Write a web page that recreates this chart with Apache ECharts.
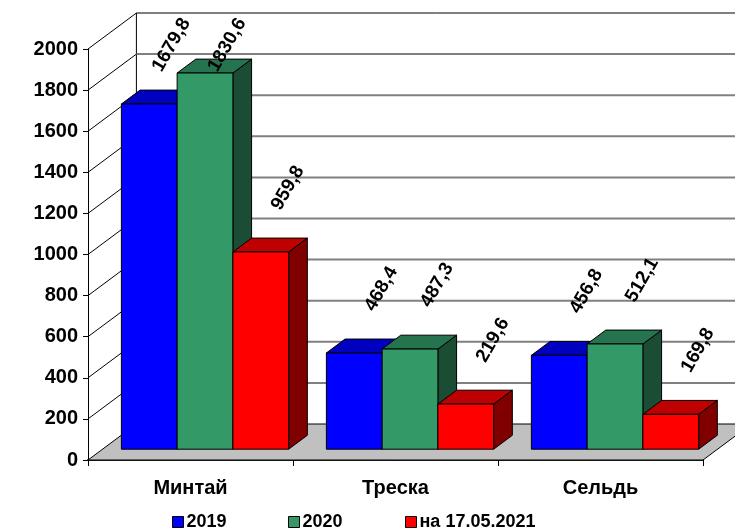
<!DOCTYPE html>
<html>
<head>
<meta charset="utf-8">
<script src="https://cdn.jsdelivr.net/npm/echarts@6/dist/echarts.min.js"></script>
<style>
html,body{margin:0;padding:0;background:#fff;}
#chart{width:735px;height:528px;}
</style>
</head>
<body>
<div id="chart"></div>
<script>
// ---- data ----
const categories = ['Минтай', 'Треска', 'Сельдь'];
const seriesNames = ['2019', '2020', 'на 17.05.2021'];
const values2019 = [1679.8, 468.4, 456.8];
const values2020 = [1830.6, 487.3, 512.1];
const values2021 = [959.8, 219.6, 169.8];
const yTicks = [0, 200, 400, 600, 800, 1000, 1200, 1400, 1600, 1800, 2000];

// ---- styles ----
const FONT = '"Liberation Sans", Arial, sans-serif';
const DEPTH = { x: 48.4, y: -36 };     // full floor depth vector
const F1 = 0.3, F2 = 0.686;            // bar front/back depth fractions
const faceColors = [
  { front: '#0000FF', top: '#0000BF', side: '#000080' },
  { front: '#339966', top: '#267350', side: '#1A4D33' },
  { front: '#FF0000', top: '#BF0000', side: '#800000' }
];
const legendLefts = [172, 288, 405];
const allValues = [values2019, values2020, values2021];

function fmt(v) { return v.toFixed(1).replace('.', ','); }

function barGeom(api, s) {
  const idx = api.value(0), v = api.value(1);
  const base = api.coord([idx, 0]);
  const top = api.coord([idx, v]);
  const W = api.size([1, 0])[0];
  const bw = W * 0.272;
  const x0 = base[0] - W * 0.408 + s * bw + DEPTH.x * F1;
  const yb = base[1] + DEPTH.y * F1;
  const yt = top[1] + DEPTH.y * F1;
  return { x0, yb, yt, bw, ddx: DEPTH.x * (F2 - F1), ddy: DEPTH.y * (F2 - F1) };
}

function makeBarRender(s) {
  return function (params, api) {
    const g = barGeom(api, s);
    const c = faceColors[s];
    const st = (fill) => ({ fill: fill, stroke: '#000', lineWidth: 1 });
    return {
      type: 'group',
      children: [
        { type: 'polygon', shape: { points: [[g.x0 + g.bw, g.yt], [g.x0 + g.bw + g.ddx, g.yt + g.ddy], [g.x0 + g.bw + g.ddx, g.yb + g.ddy], [g.x0 + g.bw, g.yb]] }, style: st(c.side) },
        { type: 'polygon', shape: { points: [[g.x0, g.yt], [g.x0 + g.bw, g.yt], [g.x0 + g.bw + g.ddx, g.yt + g.ddy], [g.x0 + g.ddx, g.yt + g.ddy]] }, style: st(c.top) },
        { type: 'rect', shape: { x: g.x0, y: g.yt, width: g.bw, height: g.yb - g.yt }, style: st(c.front) }
      ]
    };
  };
}

function renderLabel(params, api) {
  const s = api.value(2);
  const g = barGeom(api, s);
  const cs = params.coordSys;
  let cx = g.x0 + 55, cy = g.yt - 64;
  if (cy < cs.y - 4) { cy = cs.y - 4; cx = g.x0 + 50; }
  return {
    type: 'text',
    x: cx, y: cy,
    rotation: Math.PI / 3,
    style: {
      text: fmt(api.value(1)),
      font: 'bold 19px ' + FONT,
      fill: '#000',
      align: 'center',
      verticalAlign: 'middle'
    }
  };
}

function renderWall(params, api) {
  const cs = params.coordSys;
  const v = api.value(1);
  const y = api.coord([0, v])[1];
  const x = cs.x;
  const children = [];
  const maxV = yTicks[yTicks.length - 1];
  if (v === 0) {
    children.push({
      type: 'polygon',
      shape: { points: [[x, y], [x + cs.width, y], [x + cs.width + DEPTH.x, y + DEPTH.y], [x + DEPTH.x, y + DEPTH.y]] },
      style: { fill: '#C0C0C0', stroke: '#000', lineWidth: 1 }
    });
    const yTop = api.coord([0, maxV])[1];
    children.push({
      type: 'line',
      shape: { x1: x + DEPTH.x, y1: y + DEPTH.y, x2: x + DEPTH.x, y2: yTop + DEPTH.y },
      style: { stroke: '#000', lineWidth: 1 }
    });
  } else {
    children.push({
      type: 'line',
      shape: { x1: x + DEPTH.x, y1: y + DEPTH.y, x2: x + cs.width + DEPTH.x, y2: y + DEPTH.y },
      style: { stroke: v === maxV ? '#000' : '#808080', lineWidth: v === maxV ? 1 : 2 }
    });
    children.push({
      type: 'line',
      shape: { x1: x, y1: y, x2: x + DEPTH.x, y2: y + DEPTH.y },
      style: { stroke: '#000', lineWidth: 1 }
    });
  }
  return { type: 'group', children: children };
}

const labelData = [];
allValues.forEach((arr, s) => arr.forEach((v, i) => labelData.push([i, v, s])));

const legends = seriesNames.map((name, i) => ({
  data: [name],
  left: legendLefts[i],
  top: 513,
  padding: 0,
  itemWidth: 11,
  itemHeight: 11,
  itemGap: 0,
  icon: 'rect',
  itemStyle: { borderColor: '#000', borderWidth: 1 },
  textStyle: { fontFamily: FONT, fontWeight: 'bold', fontSize: 18, color: '#000', padding: [0, 0, 0, -2] }
}));

const chart = echarts.init(document.getElementById('chart'), null, { renderer: 'canvas' });
chart.setOption({
  animation: false,
  backgroundColor: '#fff',
  grid: { left: 88, right: 32, top: 49, bottom: 68 },
  legend: legends,
  xAxis: {
    type: 'category',
    data: categories,
    axisLine: { lineStyle: { color: '#222', width: 2 } },
    axisTick: { show: true, length: 6, lineStyle: { color: '#000' } },
    axisLabel: { margin: 18, fontFamily: FONT, fontWeight: 'bold', fontSize: 20, color: '#000' },
    splitLine: { show: false }
  },
  yAxis: {
    type: 'value',
    min: 0,
    max: 2000,
    interval: 200,
    axisLine: { show: true, lineStyle: { color: '#000', width: 1 } },
    axisTick: { show: true, length: 5, lineStyle: { color: '#000' } },
    axisLabel: { margin: 10, fontFamily: FONT, fontWeight: 'bold', fontSize: 20, color: '#000',
      formatter: (v) => String(v) },
    splitLine: { show: false }
  },
  series: [
    { type: 'custom', name: 'wall', silent: true, z: 1, renderItem: renderWall,
      data: yTicks.map(v => [0, v]), encode: { x: 0, y: 1 } },
    { type: 'custom', name: seriesNames[0], z: 2, renderItem: makeBarRender(0),
      itemStyle: { color: faceColors[0].front }, data: values2019.map((v, i) => [i, v]), encode: { x: 0, y: 1 } },
    { type: 'custom', name: seriesNames[1], z: 3, renderItem: makeBarRender(1),
      itemStyle: { color: faceColors[1].front }, data: values2020.map((v, i) => [i, v]), encode: { x: 0, y: 1 } },
    { type: 'custom', name: seriesNames[2], z: 4, renderItem: makeBarRender(2),
      itemStyle: { color: faceColors[2].front }, data: values2021.map((v, i) => [i, v]), encode: { x: 0, y: 1 } },
    { type: 'custom', name: 'labels', silent: true, z: 5, renderItem: renderLabel,
      data: labelData, encode: { x: 0, y: 1 } }
  ]
});
</script>
</body>
</html>
